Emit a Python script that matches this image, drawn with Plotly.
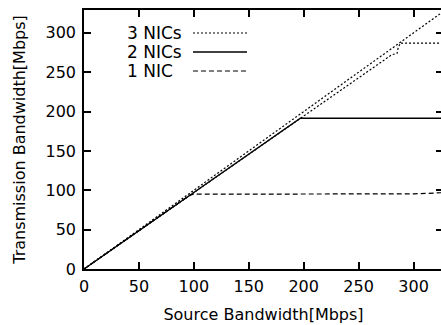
import plotly.graph_objects as go

# Data
ideal_x = [0, 327]
ideal_y = [0, 327]

nic3_x = [0, 50, 100, 150, 200, 250, 280, 285, 286, 288, 327]
nic3_y = [0, 48.5, 97, 146, 194.5, 243, 272, 274, 281, 287, 287]

nic2_x = [0, 50, 100, 150, 194, 197, 250, 327]
nic2_y = [0, 48.5, 97, 146, 189, 191.5, 191.5, 191.5]

nic1_x = [0, 50, 96, 100, 150, 200, 250, 300, 320, 327]
nic1_y = [0, 48.5, 93.5, 95, 95, 95, 95, 95.5, 96.5, 97]

x_ticks = [0, 50, 100, 150, 200, 250, 300]
y_ticks = [0, 50, 100, 150, 200, 250, 300]

legend_names = ["3 NICs", "2 NICs", "1 NIC"]
DOT = "2px,2px"
DASH = "5px,3px"
legend_dash = [DOT, "solid", DASH]
legend_width = [1.2, 1.4, 1.2]

FONT = "DejaVu Sans, sans-serif"
FS = 16

fig = go.Figure()
fig.add_trace(go.Scatter(x=ideal_x, y=ideal_y, mode="lines",
                         line=dict(color="black", width=1.2, dash=DOT),
                         showlegend=False, hoverinfo="skip"))
fig.add_trace(go.Scatter(x=nic3_x, y=nic3_y, mode="lines", name="3 NICs",
                         line=dict(color="black", width=1.2, dash=DOT), showlegend=False))
fig.add_trace(go.Scatter(x=nic2_x, y=nic2_y, mode="lines", name="2 NICs",
                         line=dict(color="black", width=1.4, dash="solid"), showlegend=False))
fig.add_trace(go.Scatter(x=nic1_x, y=nic1_y, mode="lines", name="1 NIC",
                         line=dict(color="black", width=1.2, dash=DASH), showlegend=False))

# manual legend (text left, sample line right, as in the reference)
W, H = 443, 325
ml, mr, mt, mb = 84, 0, 10, 56
pw, ph = W - ml - mr, H - mt - mb

def px(xp):
    return (xp - ml) / pw

def py(yp):
    return 1 - (yp - mt) / ph

leg_y = [33, 52, 71]
for name, dash, lw, yy in zip(legend_names, legend_dash, legend_width, leg_y):
    fig.add_annotation(x=px(125), y=py(yy), xref="paper", yref="paper",
                       text=name, showarrow=False, xanchor="left", yanchor="middle",
                       font=dict(family=FONT, size=FS + 1, color="black"))
    fig.add_shape(type="line", xref="paper", yref="paper",
                  x0=px(193), x1=px(247), y0=py(yy), y1=py(yy),
                  line=dict(color="black", width=lw, dash=dash))

axis_common = dict(showgrid=False, zeroline=False, showline=True, linecolor="black",
                   linewidth=1.5, mirror="ticks", ticks="inside", ticklen=7,
                   tickcolor="black", tickwidth=1.5, automargin=False,
                   tickfont=dict(family=FONT, size=FS, color="black"))

fig.update_xaxes(range=[0, 326.8], tickvals=x_ticks, ticklabelstandoff=2,
                 title=dict(text="Source Bandwidth[Mbps]", standoff=14,
                            font=dict(family=FONT, size=FS, color="black")),
                 **axis_common)
fig.update_yaxes(range=[0, 329], tickvals=y_ticks, ticklabelstandoff=3,
                 title=dict(text="Transmission Bandwidth[Mbps]", standoff=16,
                            font=dict(family=FONT, size=FS, color="black")),
                 **axis_common)

fig.update_layout(width=W, height=H, margin=dict(l=ml, r=mr, t=mt, b=mb),
                  plot_bgcolor="white", paper_bgcolor="white", showlegend=False)

fig.write_html("out.html", config={"displayModeBar": False},
               post_script="document.body.style.margin='0';document.body.style.overflow='hidden';")
